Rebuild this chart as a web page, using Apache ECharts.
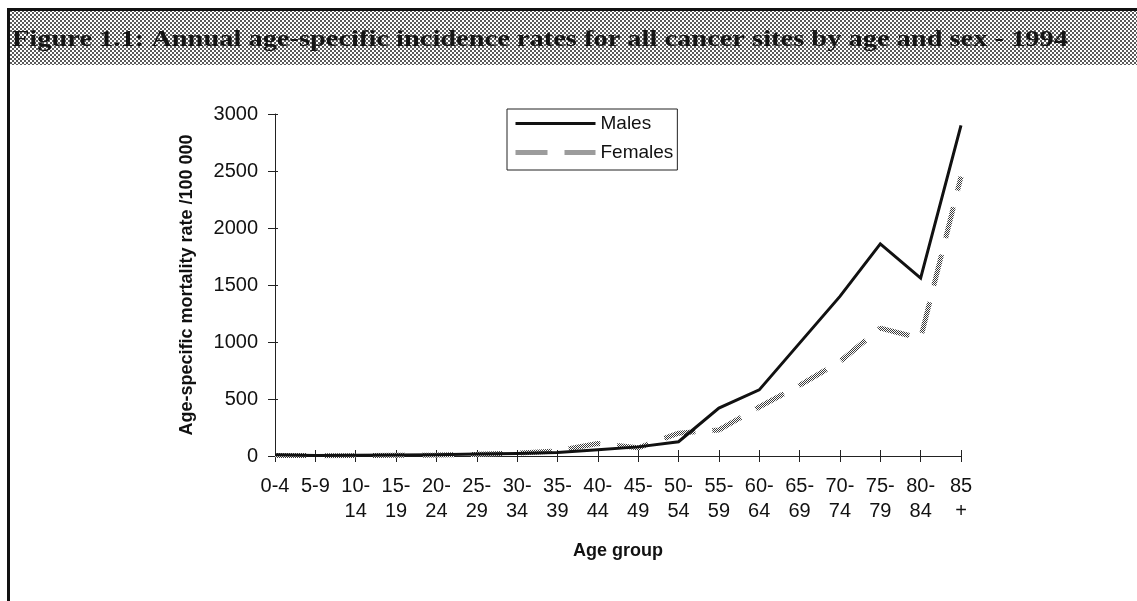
<!DOCTYPE html>
<html>
<head>
<meta charset="utf-8">
<script src="https://cdn.jsdelivr.net/npm/echarts@6/dist/echarts.min.js"></script>
<style>
  html, body { margin: 0; padding: 0; background: #fff; }
  #chart { width: 1137px; height: 601px; }
</style>
</head>
<body>
<div id="chart"></div>
<script>
// Age groups (two-line tick labels) and incidence rates per 100 000
const ageGroups = ['0-4', '5-9', '10-\n14', '15-\n19', '20-\n24', '25-\n29', '30-\n34', '35-\n39',
  '40-\n44', '45-\n49', '50-\n54', '55-\n59', '60-\n64', '65-\n69', '70-\n74', '75-\n79', '80-\n84', '85\n+'];
const males = [10, 5, 7, 8, 10, 18, 22, 30, 55, 80, 125, 420, 580, 990, 1400, 1860, 1560, 2900];
const females = [5, 3, 4, 6, 8, 15, 25, 45, 110, 72, 200, 228, 430, 620, 828, 1122, 1032, 2450];
const seriesNames = ['Males', 'Females'];
const yMin = 0, yMax = 3000, yStep = 500;

const titleText = 'Figure 1.1: Annual age-specific incidence rates for all cancer sites by age and sex - 1994';
const yAxisName = 'Age-specific mortality rate /100 000';
const xAxisName = 'Age group';

// small tiled canvases used as halftone fills
function makePattern(size, cells, dark, light) {
  const c = document.createElement('canvas');
  c.width = size; c.height = size;
  const g = c.getContext('2d');
  g.fillStyle = light; g.fillRect(0, 0, size, size);
  g.fillStyle = dark;
  cells.forEach(([x, y, w, h]) => g.fillRect(x, y, w, h));
  return c;
}
const bandPattern = makePattern(4, [[0, 0, 2, 2], [2, 2, 2, 2]], '#5a5a5a', '#ffffff');
const linePattern = makePattern(2, [[0, 0, 1, 1], [1, 1, 1, 1]], '#3a3a3a', '#ffffff');

// fit the heading across the band
const titleFont = 'bold 24px "Liberation Serif", "Times New Roman", serif';
const meas = document.createElement('canvas').getContext('2d');
meas.font = titleFont;
const titleScale = 1056 / meas.measureText(titleText).width;

const sans = '"Liberation Sans", Arial, sans-serif';
const ink = '#111';

const maleLine = { color: '#111', width: 3, join: 'miter' };
const femaleLine = { color: { image: linePattern, repeat: 'repeat' }, width: 5, type: [32, 17] };

const chart = echarts.init(document.getElementById('chart'), null, { renderer: 'canvas' });

const commonX = {
  type: 'category',
  data: ageGroups,
  boundaryGap: false,
  position: 'bottom'
};
const commonY = {
  type: 'value',
  min: yMin, max: yMax, interval: yStep,
  position: 'left',
  splitLine: { show: false }
};

chart.setOption({
  animation: false,
  backgroundColor: '#fff',
  grid: { left: 275, right: 176, top: 114, bottom: 145 },
  graphic: [
    { type: 'rect', z: 1, shape: { x: 10, y: 11, width: 1127, height: 54 },
      style: { fill: { image: bandPattern, repeat: 'repeat' } } },
    { type: 'rect', z: 2, shape: { x: 7, y: 8, width: 1130, height: 3 }, style: { fill: ink } },
    { type: 'rect', z: 2, shape: { x: 7, y: 8, width: 3, height: 593 }, style: { fill: ink } },
    { type: 'text', z: 3, x: 12, y: 40, scaleX: titleScale,
      style: { text: titleText, font: titleFont, fill: '#151515', verticalAlign: 'middle' } }
  ],
  legend: {
    orient: 'vertical',
    left: 507, top: 109,
    data: [
      { name: seriesNames[0], lineStyle: maleLine },
      { name: seriesNames[1], lineStyle: femaleLine }
    ],
    itemStyle: { opacity: 0 },
    borderColor: '#222', borderWidth: 1, borderRadius: 0,
    padding: [5, 4, 8, 6],
    itemWidth: 80, itemHeight: 14, itemGap: 10,
    textStyle: { fontFamily: sans, fontSize: 19, color: ink }
  },
  xAxis: [
    Object.assign({}, commonX, {
      name: xAxisName,
      nameLocation: 'middle',
      nameGap: 86,
      nameTextStyle: { fontFamily: sans, fontSize: 18, fontWeight: 'bold', color: ink },
      axisLine: { lineStyle: { color: '#222', width: 1 } },
      axisTick: { alignWithLabel: true, length: 6, lineStyle: { color: '#222' } },
      axisLabel: { fontFamily: sans, fontSize: 20, color: ink, lineHeight: 25, margin: 18, interval: 0 }
    }),
    Object.assign({}, commonX, {
      axisLine: { show: false },
      axisTick: { inside: true, length: 6, lineStyle: { color: '#222' } },
      axisLabel: { show: false }
    })
  ],
  yAxis: [
    Object.assign({}, commonY, {
      name: yAxisName,
      nameLocation: 'middle',
      nameGap: 79,
      nameTextStyle: { fontFamily: sans, fontSize: 18, fontWeight: 'bold', color: ink },
      axisLine: { show: true, lineStyle: { color: '#222', width: 1 } },
      axisTick: { show: true, length: 7, lineStyle: { color: '#222' } },
      axisLabel: { fontFamily: sans, fontSize: 20, color: ink, margin: 17, formatter: v => String(v) }
    }),
    Object.assign({}, commonY, {
      axisLine: { show: false },
      axisTick: { show: true, inside: true, length: 3, lineStyle: { color: '#222' } },
      axisLabel: { show: false }
    })
  ],
  series: [
    {
      name: seriesNames[0],
      type: 'line',
      data: males,
      symbol: 'none',
      z: 3,
      lineStyle: maleLine,
      itemStyle: { color: '#111' }
    },
    {
      name: seriesNames[1],
      type: 'line',
      data: females,
      symbol: 'none',
      z: 2,
      lineStyle: femaleLine,
      itemStyle: { color: '#777' }
    }
  ]
});
</script>
</body>
</html>
